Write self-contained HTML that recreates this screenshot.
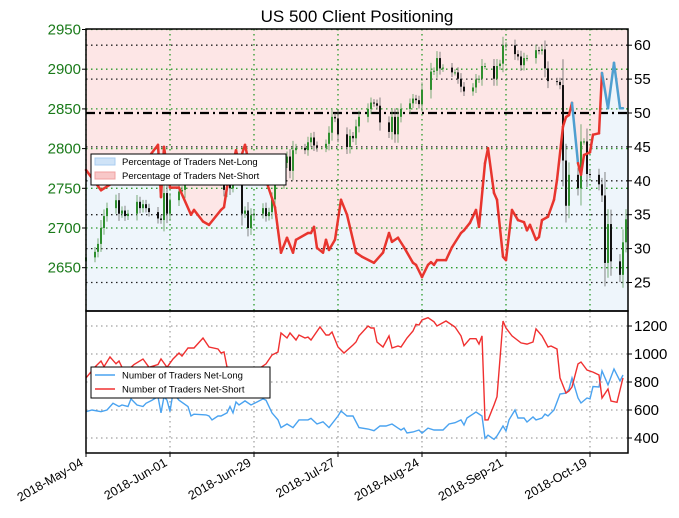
<!DOCTYPE html>
<html><head><meta charset="utf-8"><style>
html,body{margin:0;padding:0;background:#fff;}
svg{display:block;font-family:"Liberation Sans",sans-serif;}
</style></head><body>
<svg id="chart" width="679" height="518" viewBox="0 0 679 518" xmlns="http://www.w3.org/2000/svg">
<text x="357" y="22" font-size="17" text-anchor="middle">US 500 Client Positioning</text>
<g id="topg"></g>
<g id="botg"></g>
</svg>
<script>
// ---- data ----
const dateLabels = ["2018-May-04","2018-Jun-01","2018-Jun-29","2018-Jul-27","2018-Aug-24","2018-Sep-21","2018-Oct-19"];
const dateLabelDays = [0,28,56,84,112,140,168];
const priceTicks = [2650,2700,2750,2800,2850,2900,2950];
const pctTicks = [25,30,35,40,45,50,55,60];
const countTicks = [400,600,800,1000,1200];
// closes per trading day (weekdays from 2018-05-04)
const closes = [2663,
2670,2680,2700,2715,2725, 2735,2718,2722,2715,2718, 2733,2725,2730,2725,2720,
2712,2710,2744,2718,2735, 2746,2748,2770,2772,2778, 2782,2786,2776,2782,2778,
2762,2748,2765,2750,2754, 2718,2722,2700,2716,2718, 2725,2715,2720,2736,2760,
2782,2790,2772,2798,2801, 2798,2808,2814,2804,2801, 2806,2820,2840,2838,2818,
2802,2816,2813,2828,2840, 2850,2858,2857,2854,2833, 2821,2840,2818,2840,2850,
2857,2863,2861,2856,2874, 2897,2898,2914,2901,2902, 2896,2896,2888,2878,2872,
2877,2887,2888,2904,2904, 2888,2904,2907,2930,2930, 2919,2916,2905,2914,2914,
2924,2923,2925,2901,2885, 2884,2880,2785,2728,2767, 2750,2809,2809,2768,2767,
2755,2741,2656,2705,2658, 2641,2682,2711];
const pctDays = [0,5,10,15,20,24,25,26,28,31,35,36,39,41,45,46,47,50,51,53,55,60,63,65,67,69,70,74,75,76,77,79,80,81,83,85,87,90,92,96,99,101,102,104,106,109,110,112,114,115,116,117,120,122,125,126,128,130,131,133,134,136,137,139,140,142,144,146,147,148,150,151,152,154,156,157,159,160,161,162,164,165,166,168,169,171,172,174,176,178,179];
const pctLong = [41.6,38.6,40,41,43,45.3,37.6,45,39,39,35,35.7,34,33.5,35.7,36.1,39,44.5,42.6,45.3,41.2,40.1,36.1,29.4,31.6,29.4,31.3,32.3,32.3,33.2,30.1,29.4,31.3,29.8,31.3,37.2,35,29.4,28.8,27.9,29.4,32.3,31,31.6,30.2,27.9,27.6,25.8,27.6,28,27.6,28.3,28.3,30.2,32.3,32.7,33.8,35.7,33.2,42.6,44.8,38.2,37.2,28.8,28.3,35.7,34.2,33.9,32.7,33.5,31.3,31.7,34.2,34.7,37.2,40.1,48,49.4,49.7,51.5,42.6,40.9,43.8,44.2,46.8,47,55.9,50.7,57.4,50.7,50.7];
const shortDays = [0,3,5,6,8,10,11,12,15,16,19,21,24,25,27,29,31,32,34,36,39,41,44,45,46,47,54,58,60,62,64,65,67,68,70,71,73,74,75,78,80,81,82,84,86,89,90,91,94,95,96,97,99,101,102,104,105,107,109,110,111,112,114,116,117,120,123,125,126,128,130,131,132,133,134,136,137,139,140,142,145,147,149,150,152,154,155,157,158,160,161,162,164,165,167,169,171,172,174,175,177,179];
const shortCount = [829,907,950,910,979,930,950,905,905,925,964,905,925,965,905,964,1007,985,1043,1043,1114,1050,1036,1007,1015,907,890,900,929,993,1014,1150,1114,1150,1100,1136,1114,1121,1100,1193,1136,1136,1157,1050,1007,1064,1086,1129,1200,1186,1186,1086,1050,1129,1043,1057,1050,1114,1164,1212,1207,1243,1259,1230,1200,1236,1193,1129,1059,1109,1109,1071,1129,529,529,636,695,1236,1186,1129,1079,1071,1086,1179,1129,1050,1057,1036,829,721,736,764,929,943,886,871,850,686,750,664,655,829];
const longDays = [0,2,5,7,9,11,12,14,15,17,19,20,22,24,25,26,27,28,29,31,34,35,36,40,41,42,44,45,47,48,49,50,51,53,55,57,59,60,62,64,65,67,69,71,74,75,77,79,81,84,85,87,89,91,94,96,98,100,102,104,105,106,107,109,111,112,114,116,119,121,123,125,126,127,129,130,132,133,134,136,137,139,140,141,143,144,146,147,149,150,152,153,154,156,158,160,161,162,164,165,167,168,169,171,172,174,176,178,179];
const longCount = [588,600,588,600,648,625,636,625,679,636,625,648,670,695,579,695,670,590,722,670,625,557,570,565,557,529,557,557,579,625,579,657,636,665,636,657,679,670,579,529,474,500,474,529,529,540,500,516,474,557,593,557,557,474,464,452,486,486,500,471,457,471,436,443,457,434,471,457,457,500,509,529,493,543,571,586,557,398,420,391,414,486,450,529,600,543,543,514,550,529,543,571,557,600,714,721,750,829,686,650,686,679,768,764,879,779,893,807,850];

// ---- layout ----
const X0=86,X1=628,D1=180.67;
const TY0=29,TY1=311,BY0=311,BY1=453;
const xs=d=>X0+(d/D1)*(X1-X0);
const yPct=v=>113-(v-50)*6.78;
const yPrice=p=>29.5+(2950-p)*0.794;
const yCnt=v=>326+(1200-v)*0.14;
const NS="http://www.w3.org/2000/svg";
function mk(parent,tag,attrs){const e=document.createElementNS(NS,tag);for(const k in attrs)e.setAttribute(k,attrs[k]);parent.appendChild(e);return e;}
const topG=document.getElementById('topg'),botG=document.getElementById('botg');

// trading days
const tradeDays=[];{let d=0;const start=new Date(2018,4,4);while(tradeDays.length<closes.length){const dt=new Date(start.getTime()+d*86400000);const wd=dt.getDay();if(wd!==0&&wd!==6)tradeDays.push(d);d++;}}

// top fills
const cp=document.createElementNS(NS,'clipPath');cp.id='tc';mk(cp,'rect',{x:X0,y:TY0,width:X1-X0,height:TY1-TY0});document.getElementById('chart').appendChild(cp);
let lineD='';pctDays.forEach((d,i)=>{lineD+=(i?'L':'M')+xs(d).toFixed(1)+','+yPct(pctLong[i]).toFixed(1);});
let f=mk(topG,'path',{d:lineD+`L${X1},${yPct(pctLong[pctLong.length-1])}L${X1},${TY0}L${X0},${TY0}Z`,fill:'#fde6e6','clip-path':'url(#tc)'});

f=mk(topG,'path',{d:lineD+`L${X1},${yPct(pctLong[pctLong.length-1])}L${X1},${TY1}L${X0},${TY1}Z`,fill:'#eef5fb','clip-path':'url(#tc)'});


// grids top
priceTicks.forEach(p=>{const y=yPrice(p);let g=mk(topG,'line',{x1:X0,x2:X1,y1:y,y2:y,stroke:'#2a9a2a','stroke-width':1.3,'stroke-dasharray':'1.5,3.5'});
 let t=mk(topG,'text',{x:X0-5,y:y+5,'font-size':15,fill:'#1a7a1a','text-anchor':'end'});t.textContent=p;
 mk(topG,'line',{x1:X0-4,x2:X0,y1:y,y2:y,stroke:'#000'});});
pctTicks.forEach(v=>{const y=yPct(v);if(v!==50){let g=mk(topG,'line',{x1:X0,x2:X1,y1:y,y2:y,stroke:'#222','stroke-width':1.3,'stroke-dasharray':'1.5,3.5'});}
 let t=mk(topG,'text',{x:X1+6,y:y+5,'font-size':15,fill:'#000'});t.textContent=v;
 mk(topG,'line',{x1:X1,x2:X1+4,y1:y,y2:y,stroke:'#000'});});
dateLabelDays.forEach(d=>{const x=xs(d);let g=mk(topG,'line',{x1:x,x2:x,y1:TY0,y2:TY1,stroke:'#2a9a2a','stroke-width':1.3,'stroke-dasharray':'1.5,3.5'});
 let g2=mk(botG,'line',{x1:x,x2:x,y1:BY0,y2:BY1,stroke:'#888','stroke-dasharray':'1.5,3.5'});});
let mid=mk(topG,'line',{x1:X0,x2:X1,y1:yPct(50),y2:yPct(50),stroke:'#000','stroke-width':2.2,'stroke-dasharray':'9,4,2,4'});


// candles
closes.forEach((c,i)=>{const o=i?closes[i-1]:c-5;const x=xs(tradeDays[i]);const up=c>=o;const col=up?'#2f8f2f':'#111';
 const hi=Math.max(o,c)+Math.abs(c-o)*0.3+4,lo=Math.min(o,c)-Math.abs(c-o)*0.3-4;
 const g=mk(topG,'g',{});
 
 
 mk(g,'line',{x1:x,x2:x,y1:yPrice(hi),y2:yPrice(lo),stroke:up?'#5a9a5a':'#666','stroke-width':0.8});
 const y1=yPrice(Math.max(o,c)),y2=yPrice(Math.min(o,c));
 mk(g,'rect',{x:x-1,y:y1,width:2,height:Math.max(1,y2-y1),fill:col});});

// pct line segments
for(let i=0;i<pctDays.length-1;i++){const s=mk(topG,'line',{x1:xs(pctDays[i]),y1:yPct(pctLong[i]),x2:xs(pctDays[i+1]),y2:yPct(pctLong[i+1]),stroke:pctLong[i]>50?'#4f9fd0':'#e8352e','stroke-width':2.5,'stroke-linecap':'round'});
 
 }

// top frame & legend
let fr=mk(topG,'rect',{x:X0,y:TY0,width:X1-X0,height:TY1-TY0,fill:'none',stroke:'#000','stroke-width':1.5});
let lg=mk(topG,'g',{});
mk(lg,'rect',{x:91,y:154,width:195,height:31,fill:'#fff',stroke:'#000','stroke-width':1});
mk(lg,'rect',{x:95,y:158,width:20,height:7,fill:'#cfe3f7',stroke:'#a9cdf0'});
mk(lg,'rect',{x:95,y:172,width:20,height:7,fill:'#f8c8c8',stroke:'#f0a0a0'});
let lt=mk(lg,'text',{x:122,y:165,'font-size':9.5});lt.textContent='Percentage of Traders Net-Long';
lt=mk(lg,'text',{x:122,y:179,'font-size':9.5});lt.textContent='Percentage of Traders Net-Short';

// bottom
countTicks.forEach(v=>{const y=yCnt(v);let g=mk(botG,'line',{x1:X0,x2:X1,y1:y,y2:y,stroke:'#888','stroke-dasharray':'1.5,3.5'});
 let t=mk(botG,'text',{x:X1+6,y:y+5,'font-size':15});t.textContent=v;
 mk(botG,'line',{x1:X1,x2:X1+4,y1:y,y2:y,stroke:'#000'});});
function poly(days,vals,col,name){let d='';const n=Math.min(days.length,vals.length);for(let i=0;i<n;i++){d+=(i?'L':'M')+xs(days[i]).toFixed(1)+','+yCnt(vals[i]).toFixed(1);}const p=mk(botG,'path',{d:d,fill:'none',stroke:col,'stroke-width':1.4});}
poly(longDays,longCount,'#4aa3f0','net-long-count-line');
poly(shortDays,shortCount,'#f03030','net-short-count-line');
fr=mk(botG,'rect',{x:X0,y:BY0,width:X1-X0,height:BY1-BY0,fill:'none',stroke:'#000','stroke-width':1.5});
lg=mk(botG,'g',{});
mk(lg,'rect',{x:91,y:367,width:179,height:31,fill:'#fff',stroke:'#000','stroke-width':1});
mk(lg,'line',{x1:95,x2:115,y1:375,y2:375,stroke:'#4aa3f0','stroke-width':1.4});
mk(lg,'line',{x1:95,x2:115,y1:389,y2:389,stroke:'#f03030','stroke-width':1.4});
lt=mk(lg,'text',{x:122,y:378.5,'font-size':9.5});lt.textContent='Number of Traders Net-Long';
lt=mk(lg,'text',{x:122,y:392.5,'font-size':9.5});lt.textContent='Number of Traders Net-Short';
// date labels
dateLabels.forEach((s,i)=>{const x=xs(dateLabelDays[i]);mk(botG,'line',{x1:x,x2:x,y1:BY1,y2:BY1+4,stroke:'#000'});
 const t=mk(botG,'text',{x:x-2,y:BY1+12,'font-size':12.5,'text-anchor':'end',transform:`rotate(-30 ${x-2} ${BY1+12})`});t.textContent=s;
 
 });
</script>
</body></html>
